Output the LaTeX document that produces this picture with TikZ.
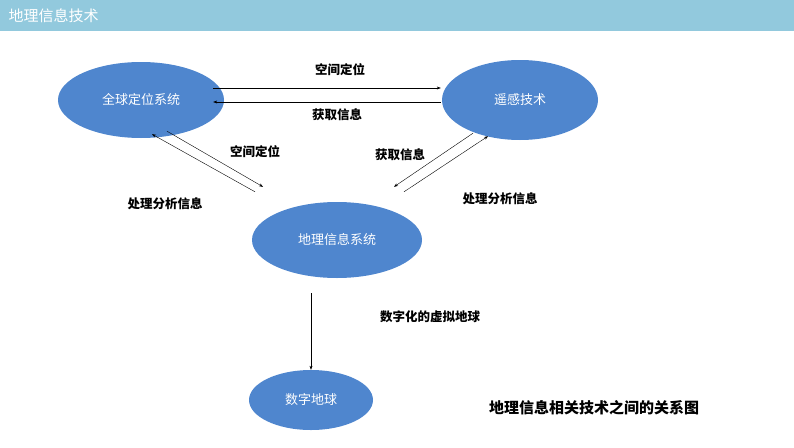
\documentclass[tikz,border=0pt]{standalone}
\usepackage{fontspec}
\setmainfont{Noto Sans CJK SC}
\usetikzlibrary{shapes.geometric,arrows.meta}
\definecolor{headbar}{RGB}{146,201,221}
\definecolor{blob}{RGB}{79,134,206}

\tikzset{
  blob/.style={ellipse,fill=blob,text=white,font=\fontsize{13}{15}\selectfont,inner sep=0pt},
  link/.style={thin,-{Stealth[length=4pt,width=3pt]}},
  tag/.style={font=\bfseries\fontsize{12.5}{15}\selectfont}
}

\begin{document}
\begin{tikzpicture}[x=1pt,y=-1pt]
  \useasboundingbox (0,0) rectangle (794,447);
  \fill[headbar] (0,0) rectangle (794,31);
  \node[anchor=west,text=white,font=\fontsize{15}{17}\selectfont] (title) at (5,16) {地理信息技术};

  % the four systems
  \node[blob,minimum width=166,minimum height=76] (gps) at (141,100) {全球定位系统};
  \node[blob,minimum width=156,minimum height=80] (rs) at (520,100) {遥感技术};
  \node[blob,minimum width=170,minimum height=76] (gis) at (337,240) {地理信息系统};
  \node[blob,minimum width=124,minimum height=60] (earth) at (311,400) {数字地球};

  % links
  \draw[link] ([shift={(-11,-12)}]gps.east) -- ([shift={(-1,-12)}]rs.west);
  \draw[link] ([shift={(-1,2)}]rs.west) -- ([shift={(-11,2)}]gps.east);
  \draw[link] ([shift={(26,-7)}]gps.south) -- ([shift={(-74,-15)}]gis.north);
  \draw[link] ([shift={(-82,-10)}]gis.north) -- ([shift={(11,-4)}]gps.south);
  \draw[link] ([shift={(-47,-7)}]rs.south) -- ([shift={(57,-15)}]gis.north);
  \draw[link] ([shift={(67,-10)}]gis.north) -- ([shift={(-32,-4)}]rs.south);
  \draw[link] ([yshift=-15]gis.south -| earth.north) -- (earth.north);

  % labels
  \node[tag] (l1) at (340,70) {空间定位};
  \node[tag] (l2) at (337,115) {获取信息};
  \node[tag] (l3) at (255,152) {空间定位};
  \node[tag] (l4) at (400,155) {获取信息};
  \node[tag] (l5) at (165,204) {处理分析信息};
  \node[tag] (l6) at (500,199) {处理分析信息};
  \node[tag] (l7) at (430,317) {数字化的虚拟地球};
  \node[font=\bfseries\fontsize{15}{18}\selectfont] (cap) at (594,408) {地理信息相关技术之间的关系图};
\end{tikzpicture}
\end{document}
